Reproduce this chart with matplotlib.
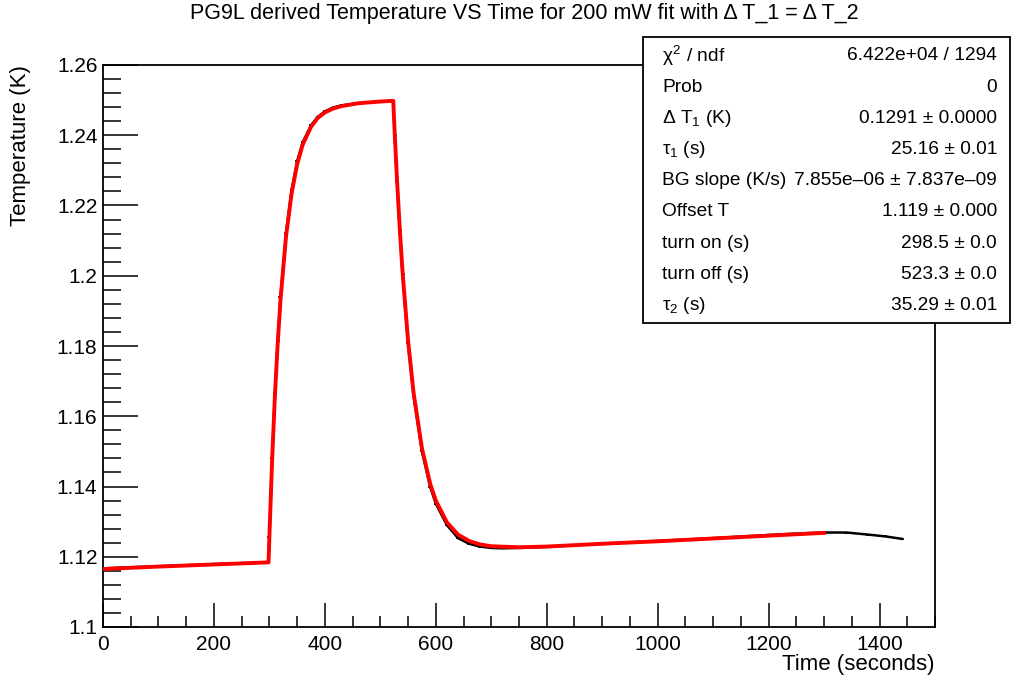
import matplotlib
matplotlib.use("Agg")
import matplotlib.pyplot as plt
from matplotlib.ticker import MultipleLocator
from matplotlib.patches import Rectangle

plt.rcParams['font.family'] = ['Liberation Sans', 'DejaVu Sans']
plt.rcParams['mathtext.fontset'] = 'custom'
plt.rcParams['mathtext.rm'] = 'Liberation Sans'
plt.rcParams['mathtext.it'] = 'Liberation Sans'

data_t = [0, 100, 200, 298, 300, 305, 310, 315, 320, 330, 340, 350, 360, 375,
          387, 400, 415, 430, 460, 500, 523, 526, 530, 535, 540, 550, 560, 575,
          590, 600, 620, 640, 660, 680, 700, 720, 750, 800, 900, 1000, 1100,
          1200, 1250, 1300, 1340, 1380, 1410, 1440]
data_T = [1.1167, 1.1173, 1.1179, 1.1184, 1.1255, 1.1480, 1.1665, 1.1815, 1.1940,
          1.2122, 1.2244, 1.2326, 1.2380, 1.2428, 1.2452, 1.2468, 1.2479, 1.2485,
          1.2491, 1.2496, 1.2498, 1.2400, 1.2270, 1.2130, 1.2005, 1.1808, 1.1658,
          1.1500, 1.1398, 1.1351, 1.1290, 1.1253, 1.1237, 1.1229, 1.1225, 1.1224,
          1.1225, 1.1228, 1.1237, 1.1245, 1.1253, 1.1262, 1.1266, 1.1269, 1.1269,
          1.1263, 1.1258, 1.1251]

# fitted curve
fit_t = [0, 100, 200, 298.5, 300, 305, 310, 315, 320, 330, 340, 350, 360, 375,
         387, 400, 415, 430, 460, 500, 523.3, 526, 530, 535, 540, 550, 560, 575,
         590, 600, 620, 640, 660, 680, 700, 750, 800, 900, 1000, 1100, 1200, 1300]
fit_T = [1.1165, 1.1172, 1.1178, 1.1184, 1.1259, 1.1479, 1.1661, 1.1808, 1.1931,
         1.2112, 1.2234, 1.2317, 1.2373, 1.2424, 1.2449, 1.2465, 1.2476, 1.2483,
         1.2491, 1.2496, 1.2498, 1.2403, 1.2275, 1.2135, 1.2012, 1.1815, 1.1666,
         1.1509, 1.1407, 1.1360, 1.1298, 1.1263, 1.1245, 1.1235, 1.1230, 1.1227,
         1.1229, 1.1237, 1.1244, 1.1252, 1.1260, 1.1268]

stat_labels = [r"$\chi^{2}$ / ndf", "Prob", r"$\Delta$ T$_{1}$ (K)", r"$\tau_{1}$ (s)",
               "BG slope (K/s)", "Offset T", "turn on (s)", "turn off (s)", r"$\tau_{2}$ (s)"]
stat_values = ["6.422e+04 / 1294", "0", "0.1291 ± 0.0000", "25.16 ± 0.01",
               "7.855e\u201306 ± 7.837e\u201309", "1.119 ± 0.000", "298.5 ± 0.0",
               "523.3 ± 0.0", "35.29 ± 0.01"]

W, H = 1015, 680
fig = plt.figure(figsize=(W / 100, H / 100), dpi=100)
ax = fig.add_axes([103 / W, 53 / H, 832 / W, 562 / H])

ax.plot(data_t, data_T, color='black', lw=1.8, marker='_', ms=3.5, mew=1.2, zorder=2)
ax.plot(fit_t, fit_T, color='red', lw=2.8, zorder=3)

ax.set_xlim(0, 1500)
ax.set_ylim(1.1, 1.26)
ax.xaxis.set_major_locator(MultipleLocator(200))
ax.xaxis.set_minor_locator(MultipleLocator(50))
ax.yaxis.set_major_locator(MultipleLocator(0.02))
ax.yaxis.set_minor_locator(MultipleLocator(0.004))
ax.yaxis.set_major_formatter(plt.FuncFormatter(lambda v, p: ('%.2f' % v).rstrip('0').rstrip('.') if v else '0'))
ax.tick_params(axis='both', which='both', direction='in', top=False, right=False,
               labelsize=15, width=1.1, color='black')
ax.tick_params(axis='y', which='major', length=25, pad=4)
ax.tick_params(axis='y', which='minor', length=13)
ax.tick_params(axis='x', which='major', length=17, pad=6)
ax.tick_params(axis='x', which='minor', length=8)
for s in ax.spines.values():
    s.set_linewidth(1.3)

ax.set_xlabel("Time (seconds)", fontsize=16, loc='right', labelpad=0)
ax.set_ylabel("Temperature (K)", fontsize=16, loc='top')
ax.yaxis.set_label_coords(-0.086, 1.0)

fig.text(524 / W, 1 - 14 / H, "PG9L derived Temperature VS Time for 200 mW fit with Δ T_1 = Δ T_2",
         ha='center', va='center', fontsize=15.5)

# stats box
bx0, by0, bx1, by1 = 643, 37, 1010, 323
fig.patches.append(Rectangle((bx0 / W, 1 - by1 / H), (bx1 - bx0) / W, (by1 - by0) / H,
                             transform=fig.transFigure, facecolor='white',
                             edgecolor='black', lw=1.3, zorder=5))
for i, (lab, val) in enumerate(zip(stat_labels, stat_values)):
    yy = 1 - (56 + i * 31.2) / H
    fig.text(662 / W, yy, lab, ha='left', va='center', fontsize=13.8, zorder=6)
    fig.text(997 / W, yy, val, ha='right', va='center', fontsize=13.8, zorder=6)

fig.savefig("out.png", dpi=100)
